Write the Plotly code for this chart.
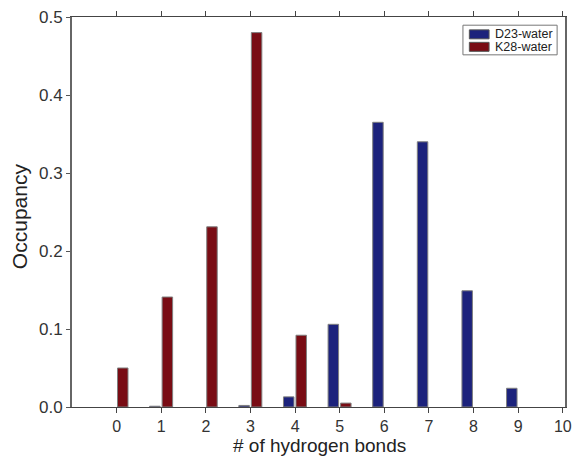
import plotly.graph_objects as go

# Hydrogen-bond count bins and occupancy per residue-water pair
n_bonds = [0, 1, 2, 3, 4, 5, 6, 7, 8, 9]
d23_water = [0.0, 0.001, 0.0, 0.002, 0.013, 0.106, 0.365, 0.340, 0.149, 0.024]
k28_water = [0.050, 0.141, 0.231, 0.480, 0.092, 0.005, 0.0, 0.0, 0.0, 0.0]
series_names = ["D23-water", "K28-water"]

x_ticks = list(range(0, 11))
y_ticks = [0.0, 0.1, 0.2, 0.3, 0.4, 0.5]

blue = "#1c227c"
red = "#790c14"
edge = "#7f7f7f"
font_family = "Liberation Sans, Arial, sans-serif"


def drop_empty(values):
    # empty bins get no bar (and no outline sliver)
    return [v if v > 0 else None for v in values]


fig = go.Figure()
fig.add_trace(go.Bar(
    x=n_bonds, y=drop_empty(d23_water), name=series_names[0],
    marker=dict(color=blue, line=dict(color=edge, width=1)),
    width=0.235, offset=-0.26, showlegend=False,
))
fig.add_trace(go.Bar(
    x=n_bonds, y=drop_empty(k28_water), name=series_names[1],
    marker=dict(color=red, line=dict(color=edge, width=1)),
    width=0.235, offset=0.02, showlegend=False,
))

# compact boxed legend in the upper right corner
shapes = [dict(type="rect", xref="paper", yref="paper",
               x0=0.793, x1=0.984, y0=0.903, y1=0.979,
               line=dict(color="#777777", width=1), fillcolor="white")]
annotations = []
for i, (name, col) in enumerate(zip(series_names, [blue, red])):
    top = 0.967 - i * 0.032
    shapes.append(dict(type="rect", xref="paper", yref="paper",
                       x0=0.806, x1=0.846, y0=top - 0.023, y1=top,
                       line=dict(color="#555555", width=1), fillcolor=col))
    annotations.append(dict(xref="paper", yref="paper", x=0.854, y=top - 0.0115,
                            xanchor="left", yanchor="middle", showarrow=False,
                            text=name, font=dict(family=font_family, size=12.5, color="#222222")))

# axis titles
annotations.append(dict(xref="paper", yref="paper", x=0.503, y=-0.1305,
                        xanchor="center", yanchor="bottom", showarrow=False,
                        text="# of hydrogen bonds",
                        font=dict(family=font_family, size=19, color="#222222")))
annotations.append(dict(xref="paper", yref="paper", x=-0.105, y=0.49,
                        xanchor="center", yanchor="middle", showarrow=False, textangle=-90,
                        text="Occupancy",
                        font=dict(family=font_family, size=21, color="#222222")))

x_font = dict(family=font_family, size=16, color="#333333")
y_font = dict(family=font_family, size=17, color="#333333")

fig.update_layout(
    width=579, height=458,
    margin=dict(l=72, r=14, t=17, b=51),
    paper_bgcolor="white", plot_bgcolor="white",
    barmode="overlay",
    showlegend=False,
    shapes=shapes,
    annotations=annotations,
    xaxis=dict(
        range=[-1.0, 10.05],
        tickvals=x_ticks, ticktext=[str(v) for v in x_ticks],
        ticks="outside", ticklen=5, tickcolor="#444444",
        showline=True, linecolor="#444444", linewidth=1.2, mirror="ticks",
        showgrid=False, zeroline=False, automargin=False,
        tickfont=x_font,
    ),
    yaxis=dict(
        range=[0, 0.5],
        tickvals=y_ticks, ticktext=[f"{v:.1f}" for v in y_ticks],
        ticks="outside", ticklen=4, tickcolor="#555555",
        showline=True, linecolor="#666666", linewidth=2, mirror=True,
        showgrid=False, zeroline=False, automargin=False,
        tickfont=y_font,
    ),
)

fig.write_html("out.html")
